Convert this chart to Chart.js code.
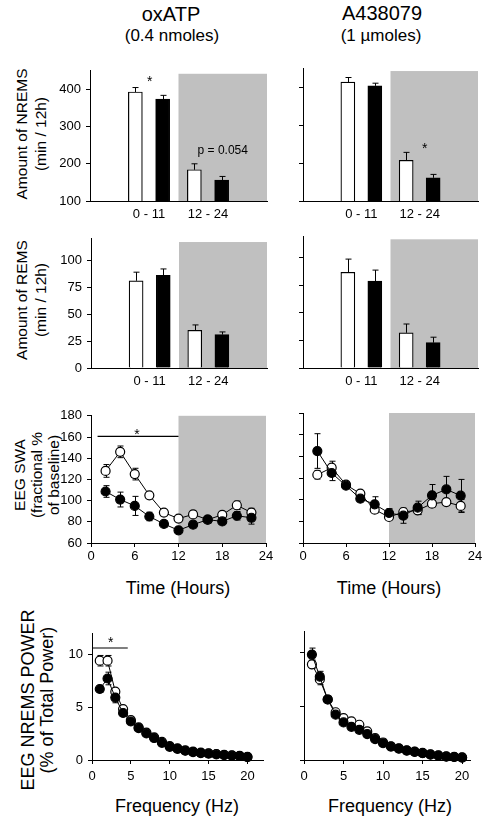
<!DOCTYPE html>
<html>
<head>
<meta charset="utf-8">
<script src="https://cdn.jsdelivr.net/npm/chart.js@4.4.0/dist/chart.umd.min.js"></script>
<style>
body{margin:0;background:#fff;font-family:Arial,"Liberation Sans",sans-serif;color:#000;}
#fig{position:relative;width:482px;height:816px;overflow:hidden;}
canvas{position:absolute;}
.t{position:absolute;transform:translate(-50%,-50%);white-space:nowrap;text-align:center;}
.r{transform:translate(-50%,-50%) rotate(-90deg);}
</style>
</head>
<body>
<div id="fig">
  <div class="t" style="left:171px;top:14px;font-size:20px">oxATP</div>
  <div class="t" style="left:172px;top:36px;font-size:17px">(0.4 nmoles)</div>
  <div class="t" style="left:382px;top:13px;font-size:20px">A438079</div>
  <div class="t" style="left:381px;top:36px;font-size:17px">(1 µmoles)</div>

  <div class="t r" style="left:31px;top:134px;font-size:15.5px;line-height:19px">Amount of NREMS<br>(min / 12h)</div>
  <div class="t r" style="left:31px;top:300px;font-size:15.5px;line-height:19px">Amount of REMS<br>(min / 12h)</div>
  <div class="t r" style="left:36px;top:475px;font-size:15.5px;line-height:17px">EEG SWA<br>(fractional %<br>of baseline)</div>
  <div class="t r" style="left:38px;top:700px;font-size:18px;line-height:19px">EEG NREMS POWER<br>(% of Total Power)</div>

  <div class="t" style="left:178px;top:588px;font-size:18px">Time (Hours)</div>
  <div class="t" style="left:389px;top:588px;font-size:18px">Time (Hours)</div>
  <div class="t" style="left:177px;top:806px;font-size:18px">Frequency (Hz)</div>
  <div class="t" style="left:390px;top:806px;font-size:18px">Frequency (Hz)</div>
</div>
<script>
// --- bar panels (amount per 12h) ---
const periods = ['0 - 11', '12 - 24'];
const periodX = [8, 16];

const nremsOxOpen = [393, 184];
const nremsOxOpenErr = [12, 16];
const nremsOxFilled = [374, 156];
const nremsOxFilledErr = [10, 10];
const nremsAOpen = [413, 207];
const nremsAOpenErr = [12, 21];
const nremsAFilled = [403, 161];
const nremsAFilledErr = [7, 9];

const remsOxOpen = [81, 35];
const remsOxOpenErr = [8, 5];
const remsOxFilled = [86, 31];
const remsOxFilledErr = [6, 2.5];
const remsAOpen = [87, 32];
const remsAOpenErr = [12, 8];
const remsAFilled = [79, 23];
const remsAFilledErr = [10, 5];

const nremsTicks = [100, 200, 300, 400];
const remsTicks = [0, 25, 50, 75, 100];

// --- EEG SWA over time ---
const hours = [2, 4, 6, 8, 10, 12, 14, 16, 18, 20, 22];
const hourTicks = [0, 6, 12, 18, 24];
const swaTicks = [60, 80, 100, 120, 140, 160, 180];

const swaOxOpen = [128, 146, 125, 105, 88.7, 83, 87, 82, 86.6, 95.6, 88.7];
const swaOxOpenErr = [6, 5.5, 5.5, 1.5, 2, 1, 3, 2, 2, 4, 4];
const swaOxFilled = [108.6, 101, 95, 85, 78, 72, 77.3, 82, 80.4, 85.7, 83.8];
const swaOxFilledErr = [5.5, 7, 9, 4, 3, 2, 3, 3, 3, 4, 6];
const swaAOpen = [123, 129.5, 113.8, 105.5, 90.8, 84, 88.6, 90.2, 96.3, 97.8, 94.2];
const swaAOpenErr = [4, 6, 2, 2, 3, 2, 3, 4, 3, 3, 6];
const swaAFilled = [144.9, 124.6, 112.9, 100.9, 95.7, 87.7, 85.2, 92.6, 104, 109.5, 103.7];
const swaAFilledErr = [16, 7, 2, 3, 7, 4, 7, 6, 10, 12, 15];

// --- NREMS power spectrum ---
const freqs = [1,2,3,4,5,6,7,8,9,10,11,12,13,14,15,16,17,18,19,20];
const freqTicks = [0, 5, 10, 15, 20];
const powTicks = [0, 5, 10];

const powOxOpen = [9.44, 9.44, 6.5, 4.84, 3.8, 3.1, 2.6, 2.15, 1.72, 1.32, 1.1, 0.92, 0.8, 0.7, 0.64, 0.57, 0.5, 0.44, 0.4, 0.31];
const powOxOpenErr = [0.5, 0.5, 0.3, 0.2, 0.15, 0.1, 0.1, 0.1, 0.1, 0.1, 0.05, 0.05, 0.05, 0.05, 0.05, 0.05, 0.05, 0.05, 0.05, 0.05];
const powOxFilled = [6.75, 7.75, 5.94, 4.47, 3.66, 3.03, 2.53, 2.09, 1.63, 1.25, 1.06, 0.88, 0.75, 0.66, 0.6, 0.53, 0.47, 0.41, 0.38, 0.28];
const powOxFilledErr = [0.3, 0.6, 0.5, 0.2, 0.15, 0.1, 0.1, 0.1, 0.1, 0.1, 0.05, 0.05, 0.05, 0.05, 0.05, 0.05, 0.05, 0.05, 0.05, 0.05];
const powAOpen = [8.9, 7.5, 5.63, 4.44, 3.9, 3.6, 3.28, 2.66, 2.03, 1.63, 1.28, 1.08, 0.9, 0.78, 0.66, 0.53, 0.44, 0.34, 0.3, 0.24];
const powAOpenErr = [0.4, 0.5, 0.2, 0.15, 0.1, 0.1, 0.1, 0.1, 0.1, 0.1, 0.05, 0.05, 0.05, 0.05, 0.05, 0.05, 0.05, 0.05, 0.05, 0.05];
const powAFilled = [9.81, 7.75, 5.63, 4.22, 3.5, 3.09, 2.81, 2.41, 1.94, 1.56, 1.25, 1.06, 0.88, 0.75, 0.63, 0.5, 0.41, 0.31, 0.28, 0.22];
const powAFilledErr = [0.6, 0.5, 0.2, 0.15, 0.1, 0.1, 0.1, 0.1, 0.1, 0.1, 0.05, 0.05, 0.05, 0.05, 0.05, 0.05, 0.05, 0.05, 0.05, 0.05];

// plot areas on the page
const areas = {
  nremsL: {l: 90, t: 68, r: 267, b: 201},
  nremsR: {l: 303, t: 68, r: 478, b: 201},
  remsL: {l: 91, t: 236, r: 267, b: 368},
  remsR: {l: 303, t: 236, r: 478, b: 368},
  swaL: {l: 91, t: 413, r: 266, b: 543},
  swaR: {l: 303, t: 413, r: 475, b: 543},
  powL: {l: 92, t: 631, r: 263, b: 760},
  powR: {l: 304, t: 631, r: 470, b: 760}
};
const YW = 45, XH = 30, PT = 10, PR = 12;
const FONT = 'Arial, "Liberation Sans", sans-serif';

Chart.defaults.font.family = FONT;
Chart.defaults.font.size = 13;
Chart.defaults.color = '#000';

function drawErr(chart, up) {
  const {ctx, scales: {x, y}} = chart;
  ctx.save();
  ctx.strokeStyle = '#000';
  ctx.lineWidth = 1;
  chart.data.datasets.forEach(ds => {
    if (!ds.err) return;
    ds.data.forEach((p, j) => {
      const e = ds.err[j];
      const px = Math.round(x.getPixelForValue(p.x)) + 0.5;
      const y0 = y.getPixelForValue(up ? p.y : p.y - e);
      const y1 = y.getPixelForValue(p.y + e);
      const cap = 3;
      ctx.beginPath();
      ctx.moveTo(px, y0); ctx.lineTo(px, y1);
      ctx.moveTo(px - cap, y1); ctx.lineTo(px + cap, y1);
      if (!up) { ctx.moveTo(px - cap, y0); ctx.lineTo(px + cap, y0); }
      ctx.stroke();
    });
  });
  ctx.restore();
}

function drawNotes(chart, o) {
  const {ctx, scales: {x, y}} = chart;
  ctx.save();
  ctx.fillStyle = '#000';
  ctx.strokeStyle = '#000';
  ctx.lineWidth = 1.2;
  (o.lines || []).forEach(l => {
    const py = y.getPixelForValue(l[2]);
    ctx.beginPath();
    ctx.moveTo(x.getPixelForValue(l[0]), py);
    ctx.lineTo(x.getPixelForValue(l[1]), py);
    ctx.stroke();
  });
  (o.texts || []).forEach(t => {
    ctx.font = t.size + 'px ' + FONT;
    ctx.textAlign = 'center';
    ctx.textBaseline = 'middle';
    const dy = t.text === '*' ? 0.23 * t.size : 0;
    ctx.fillText(t.text, x.getPixelForValue(t.x), y.getPixelForValue(t.y) + dy);
  });
  ctx.restore();
}

const extras = {
  id: 'extras',
  beforeDraw(chart, args, o) {
    if (!o.shade) return;
    const {ctx, chartArea: a, scales: {x, y}} = chart;
    const x1 = x.getPixelForValue(o.shade[0]), x2 = x.getPixelForValue(o.shade[1]);
    const top = o.shade[2] != null ? y.getPixelForValue(o.shade[2]) : a.top;
    ctx.save();
    ctx.fillStyle = '#c0c0c0';
    ctx.fillRect(x1, top, x2 - x1, a.bottom - top);
    ctx.restore();
  },
  beforeDatasetsDraw(chart, args, o) {
    if (!o.errUp) drawErr(chart, false);
  },
  afterDatasetsDraw(chart, args, o) {
    if (o.errUp) drawErr(chart, true);
    drawNotes(chart, o);
  }
};

function yScale(min, max, ticks, labels) {
  return {
    type: 'linear', min: min, max: max,
    afterBuildTicks: s => { s.ticks = ticks.map(v => ({value: v})); },
    afterFit: s => { s.width = YW; },
    grid: {display: true, drawOnChartArea: false, drawTicks: true, tickLength: 4, color: '#000'},
    border: {display: true, color: '#000', width: 1},
    ticks: {display: labels, color: '#000', padding: 5}
  };
}

function xScale(max, ticks, names, tickLen, pad) {
  return {
    type: 'linear', min: 0, max: max, offset: false,
    afterBuildTicks: s => { s.ticks = ticks.map(v => ({value: v})); },
    afterFit: s => { s.height = XH; },
    grid: {display: true, offset: false, drawOnChartArea: false, drawTicks: tickLen > 0, tickLength: tickLen, color: '#000'},
    border: {display: true, color: '#000', width: 1},
    ticks: {color: '#000', padding: pad, maxRotation: 0, autoSkip: false,
      callback: (v, i) => names ? names[i] : v}
  };
}

const fig = document.getElementById('fig');
function panel(area, cfg) {
  const c = document.createElement('canvas');
  const w = area.r - area.l + YW + PR, h = area.b - area.t + PT + XH;
  c.width = w; c.height = h;
  c.style.left = (area.l - YW) + 'px';
  c.style.top = (area.t - PT) + 'px';
  c.style.width = w + 'px';
  c.style.height = h + 'px';
  fig.appendChild(c);
  Object.assign(cfg.options, {
    responsive: false, animation: false, devicePixelRatio: 1,
    layout: {padding: {top: PT, right: PR, left: 0, bottom: 0}}
  });
  cfg.options.plugins = Object.assign({legend: {display: false}, tooltip: {enabled: false}}, cfg.options.plugins);
  cfg.plugins = [extras];
  return new Chart(c, cfg);
}

function barChart(area, open, openErr, filled, filledErr, ymin, ymax, ticks, labels, notes, shadeTop) {
  const off = 1.85;
  return panel(area, {
    type: 'bar',
    data: {
      datasets: [
        {data: open.map((v, i) => ({x: periodX[i] - off, y: v})), err: openErr,
         backgroundColor: '#fff', borderColor: '#000', borderWidth: 1.2},
        {data: filled.map((v, i) => ({x: periodX[i] + off, y: v})), err: filledErr,
         backgroundColor: '#000', borderColor: '#000', borderWidth: 1.2}
      ]
    },
    options: {
      grouped: false,
      barThickness: 14,
      scales: {
        x: xScale(24, periodX, periods, 0, 6),
        y: yScale(ymin, ymax, ticks, labels)
      },
      plugins: {extras: Object.assign({shade: [12, 24, shadeTop], errUp: true}, notes)}
    }
  });
}

function lineChart(area, xs, open, openErr, filled, filledErr, xmax, xticks, ymin, ymax, yticks, labels, notes, shade, xpad) {
  const pt = {pointRadius: 4.5, pointBorderWidth: 1.2, pointBorderColor: '#000',
              borderColor: '#000', borderWidth: 1, tension: 0};
  return panel(area, {
    type: 'line',
    data: {
      datasets: [
        Object.assign({data: filled.map((v, i) => ({x: xs[i], y: v})), err: filledErr,
                       pointBackgroundColor: '#000'}, pt),
        Object.assign({data: open.map((v, i) => ({x: xs[i], y: v})), err: openErr,
                       pointBackgroundColor: '#fff'}, pt)
      ]
    },
    options: {
      clip: false,
      scales: {
        x: xScale(xmax, xticks, null, 4, xpad),
        y: yScale(ymin, ymax, yticks, labels)
      },
      plugins: {extras: Object.assign({shade: shade}, notes)}
    }
  });
}

barChart(areas.nremsL, nremsOxOpen, nremsOxOpenErr, nremsOxFilled, nremsOxFilledErr, 100, 450, nremsTicks, true,
  {texts: [{x: 8.1, y: 427, text: '*', size: 14}, {x: 18, y: 236, text: 'p = 0.054', size: 12}]}, 442);
barChart(areas.nremsR, nremsAOpen, nremsAOpenErr, nremsAFilled, nremsAFilledErr, 100, 450, nremsTicks, false,
  {texts: [{x: 16.7, y: 244, text: '*', size: 14}]}, 442);
barChart(areas.remsL, remsOxOpen, remsOxOpenErr, remsOxFilled, remsOxFilledErr, 0, 120, remsTicks, true, {}, 117);
barChart(areas.remsR, remsAOpen, remsAOpenErr, remsAFilled, remsAFilledErr, 0, 120, remsTicks, false, {}, 117);

lineChart(areas.swaL, hours, swaOxOpen, swaOxOpenErr, swaOxFilled, swaOxFilledErr, 24, hourTicks, 60, 180, swaTicks, true,
  {lines: [[0.9, 12, 160.5]], texts: [{x: 6.3, y: 165, text: '*', size: 14}]}, [12, 24], 2);
lineChart(areas.swaR, hours, swaAOpen, swaAOpenErr, swaAFilled, swaAFilledErr, 24, hourTicks, 60, 180, swaTicks, false,
  {}, [12, 24], 2);

lineChart(areas.powL, freqs, powOxOpen, powOxOpenErr, powOxFilled, powOxFilledErr, 22, freqTicks, 0, 12, powTicks, true,
  {lines: [[0.1, 4.6, 10.65]], texts: [{x: 2.4, y: 11.4, text: '*', size: 14}]}, null, 5);
lineChart(areas.powR, freqs, powAOpen, powAOpenErr, powAFilled, powAFilledErr, 21, freqTicks, 0, 12, powTicks, false,
  {}, null, 5);
</script>
</body>
</html>
